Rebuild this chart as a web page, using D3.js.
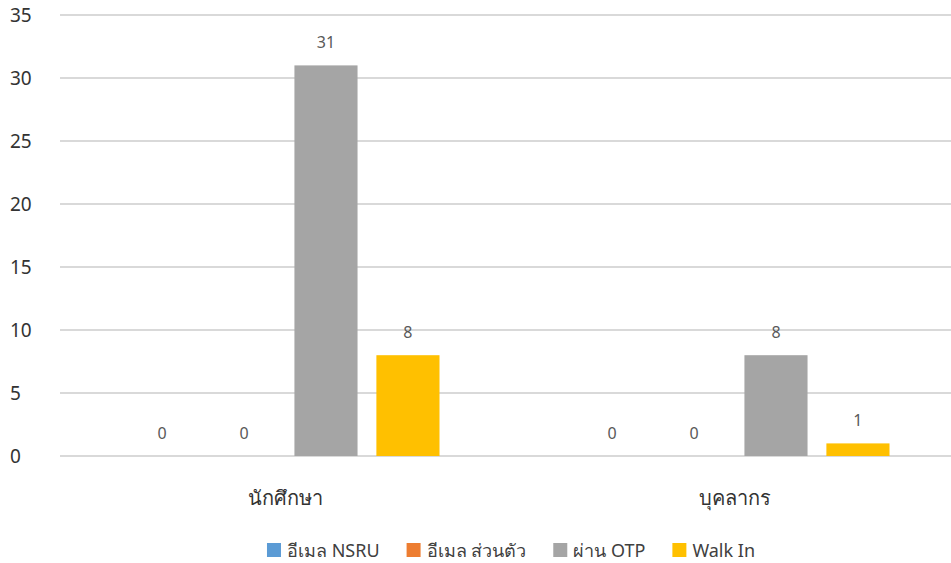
<!DOCTYPE html>
<html>
<head>
<meta charset="utf-8">
<script src="https://cdn.jsdelivr.net/npm/d3@7"></script>
<style>
  body { margin: 0; background: #fff; }
  text { font-family: "Noto Sans", "DejaVu Sans", sans-serif; }
</style>
</head>
<body>
<svg id="chart" width="951" height="563"></svg>
<script>
// chart data
const categories = ['นักศึกษา', 'บุคลากร'];
const seriesNames = ['อีเมล NSRU', 'อีเมล ส่วนตัว', 'ผ่าน OTP', 'Walk In'];
const seriesColours = ['#5B9BD5', '#ED7D31', '#A5A5A5', '#FFC000'];
const valuesNSRU = [0, 0];
const valuesPersonal = [0, 0];
const valuesOTP = [31, 8];
const valuesWalkIn = [8, 1];
const yTicks = [0, 5, 10, 15, 20, 25, 30, 35];

const seriesValues = [valuesNSRU, valuesPersonal, valuesOTP, valuesWalkIn];

const svg = d3.select('#chart');
const plot = { left: 60, right: 960, top: 15, bottom: 456 };

const y = d3.scaleLinear().domain([0, 35]).range([plot.bottom, plot.top]);
const x0 = d3.scaleBand().domain(categories).range([plot.left, plot.right]);
const groupW = 309;
const x1 = d3.scaleBand().domain(seriesNames)
  .range([x0.bandwidth() / 2 - groupW / 2, x0.bandwidth() / 2 + groupW / 2])
  .paddingInner(0.23);

// gridlines
svg.append('g').selectAll('line')
  .data(yTicks)
  .enter().append('line')
  .attr('x1', plot.left).attr('x2', 951)
  .attr('y1', d => y(d)).attr('y2', d => y(d))
  .attr('stroke', '#d9d9d9').attr('stroke-width', 2);

// y tick labels (left aligned like the source)
svg.append('g').selectAll('text')
  .data(yTicks)
  .enter().append('text')
  .attr('x', 10).attr('y', d => y(d))
  .attr('dy', '0.36em')
  .attr('font-size', 19)
  .attr('fill', '#333')
  .text(d => d);

// bars
const groups = svg.append('g').selectAll('g')
  .data(categories)
  .enter().append('g')
  .attr('transform', c => `translate(${x0(c)},0)`);

groups.each(function (c, ci) {
  const g = d3.select(this);
  seriesNames.forEach((s, si) => {
    const v = seriesValues[si][ci];
    g.append('rect')
      .attr('x', x1(s))
      .attr('y', y(v))
      .attr('width', x1.bandwidth())
      .attr('height', y(0) - y(v))
      .attr('fill', seriesColours[si]);
    g.append('text')
      .attr('x', x1(s) + x1.bandwidth() / 2)
      .attr('y', y(v) - 17)
      .attr('text-anchor', 'middle')
      .attr('font-size', 16)
      .attr('fill', '#595959')
      .text(v);
  });
});

// category labels
svg.append('g').selectAll('text')
  .data(categories)
  .enter().append('text')
  .attr('x', c => x0(c) + x0.bandwidth() / 2)
  .attr('y', 505)
  .attr('text-anchor', 'middle')
  .attr('font-size', 20)
  .attr('fill', '#333')
  .text(c => c);

// legend
const legend = svg.append('g');
let lx = 0;
seriesNames.forEach((s, i) => {
  const item = legend.append('g').attr('transform', `translate(${lx},0)`);
  item.append('rect').attr('x', 0).attr('y', -14).attr('width', 14).attr('height', 14)
    .attr('fill', seriesColours[i]);
  const t = item.append('text').attr('x', 20).attr('y', 0)
    .attr('font-size', 18).attr('fill', '#404040').text(s);
  lx += 20 + t.node().getComputedTextLength() + 27;
});
const legendW = lx - 27;
legend.attr('transform', `translate(${511 - legendW / 2},557)`);
</script>
</body>
</html>
